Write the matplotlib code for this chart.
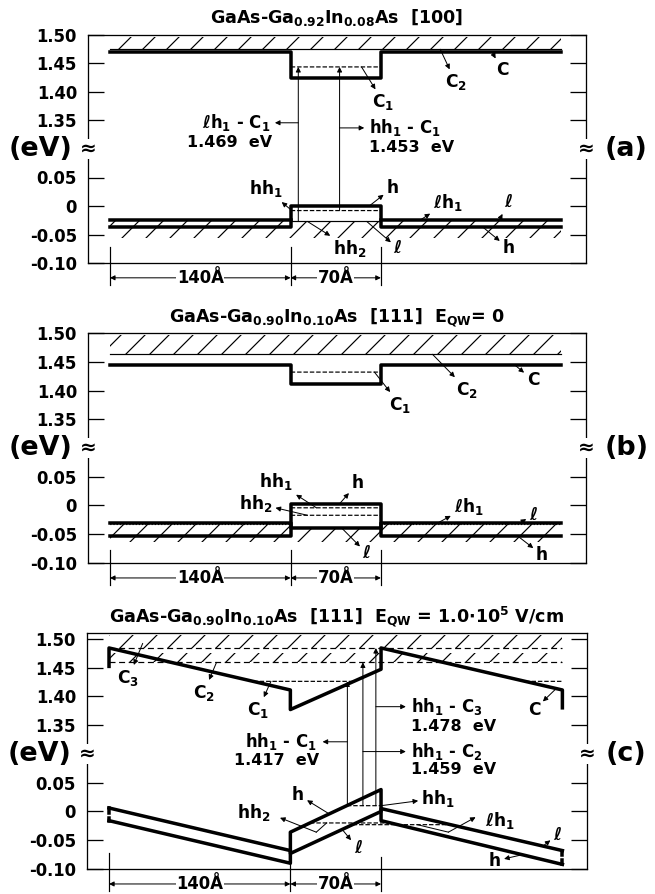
import numpy as np
import matplotlib
matplotlib.use("Agg")
import matplotlib.pyplot as plt

plt.rcParams["font.family"] = ["DejaVu Sans"]
plt.rcParams["font.weight"] = "bold"
plt.rcParams["mathtext.default"] = "bf"
plt.rcParams["hatch.linewidth"] = 1.2

# layer geometry (Angstrom): barrier | well | barrier
x_edges = [0, 140, 210, 350]
width_labels = ["140Å", "70Å"]

ytick_vals = [-0.10, -0.05, 0, 0.05, 1.35, 1.40, 1.45, 1.50]
ytick_labels = ["-0.10", "-0.05", "0", "0.05", "1.35", "1.40", "1.45", "1.50"]

# (a) [100]
a_C = [1.471, 1.424, 1.471]
a_C1 = 1.444
a_C2 = 1.475
a_Cband = [1.475, 1.497]
a_h = [-0.037, 0.0, -0.037]
a_l = [-0.024, -0.027, -0.024]
a_hh1 = -0.008
a_Vbot = -0.057
a_E = [1.469, 1.453]

# (b) [111], E=0
b_C = [1.444, 1.411, 1.444]
b_C1 = 1.432
b_C2 = 1.463
b_Cband = [1.463, 1.497]
b_h = [-0.053, 0.003, -0.053]
b_l = [-0.030, -0.040, -0.030]
b_lh1 = -0.033
b_hh1 = -0.004
b_hh2 = -0.017
b_Vbot = -0.064

# (c) [111], E=1e5 V/cm
c_Cx = [0, 0, 140, 140, 210, 210, 350, 350]
c_C = [1.452, 1.484, 1.411, 1.377, 1.447, 1.484, 1.411, 1.380]
c_Vx = [0, 140, 140, 210, 210, 350]
c_h = [-0.016, -0.090, -0.036, 0.038, -0.016, -0.092]
c_l = [0.006, -0.068, -0.073, 0.000, 0.005, -0.068]
c_C1, c_C2, c_C3 = 1.426, 1.459, 1.484
c_Cbands = [[1.484, 1.506], [1.459, 1.476]]
c_hh1, c_hh2, c_lh1 = 0.010, -0.020, -0.023
c_E = [1.417, 1.459, 1.478]

THICK = 3.5
THIN = 1.2


def Y(v):
    # broken energy axis: 1.35..1.50 is drawn just above -0.10..0.05
    v = np.asarray(v, float)
    return np.where(v > 0.5, v - 1.20, v)


def step_xy(vals):
    return np.repeat(x_edges, 2)[1:-1], np.repeat(vals, 2)


grid = np.linspace(0.25, 349.75, 1400)


def level(ax, E, ex, ey, above, ls="--", xmin=0):
    edge = np.interp(grid, ex, ey)
    ok = (edge < E if above else edge > E) & (grid > xmin)
    ax.plot(grid, np.where(ok, Y(E), np.nan), "k", lw=THIN, ls=ls, zorder=2)


def hatch(ax, x, lo, hi):
    ax.fill_between(x, Y(lo), Y(hi), facecolor="none", edgecolor="k",
                    hatch="/", lw=0, zorder=1)


def lab(ax, s, xy, xyt, fs=17):
    ax.annotate(s, xy=xy, xytext=xyt, ha="center", va="center", fontsize=fs,
                zorder=6,
                arrowprops=dict(arrowstyle="<|-", lw=1.0, color="k",
                                shrinkA=1, shrinkB=0, mutation_scale=10))


def vtrans(ax, x, lo, hi):
    ax.annotate("", xy=(x, Y(hi)), xytext=(x, Y(lo)),
                arrowprops=dict(arrowstyle="-|>", lw=1.0, color="k",
                                shrinkA=0, shrinkB=0, mutation_scale=10))


def htrans(ax, s, xv, xt, p, side, fs=16.5):
    ax.annotate(s, xy=(xv, p), xytext=(xt, p), ha=side, va="center",
                fontsize=fs,
                arrowprops=dict(arrowstyle="<|-", lw=1.0, color="k",
                                shrinkA=3, shrinkB=0, mutation_scale=10))


def frame(ax, title, tag, ty, ext_tops, ytop=0.30):
    ax.set_xlim(-17, 369)
    ax.set_ylim(-0.10, ytop)
    ax.set_xticks([])
    ax.set_yticks(Y(ytick_vals))
    ax.set_yticklabels(ytick_labels)
    ax.tick_params(axis="y", direction="in", length=16, width=1.3,
                   right=True, labelsize=16.5, pad=11)
    for sp in ax.spines.values():
        sp.set_linewidth(1.3)
    ax.text(0.5, ty, title, transform=ax.transAxes, ha="center",
            va="center", fontsize=17.5)
    tr = ax.get_yaxis_transform()
    ax.text(-0.032, 0.10, "(eV)", transform=tr, ha="right", va="center",
            fontsize=27)
    ax.text(1.038, 0.10, tag, transform=tr, ha="left", va="center",
            fontsize=27)
    for xa in (0.0, 1.0):
        ax.text(xa, 0.10, "≈", transform=tr, ha="center", va="center",
                fontsize=20, bbox=dict(fc="white", ec="none", pad=0.5))
    # dimension lines
    for xe, top in zip(x_edges[:3], ext_tops):
        ax.plot([xe, xe], [top, -0.138], "k", lw=THIN, clip_on=False)
    for i, s in enumerate(width_labels):
        x0, x1 = x_edges[i], x_edges[i + 1]
        ax.annotate("", xy=(x1, -0.126), xytext=(x0, -0.126),
                    annotation_clip=False,
                    arrowprops=dict(arrowstyle="<|-|>", lw=1.0, color="k",
                                    shrinkA=0, shrinkB=0, mutation_scale=10))
        ax.text((x0 + x1) / 2, -0.126, s, ha="center", va="center",
                fontsize=16.5, clip_on=False,
                bbox=dict(fc="white", ec="none", pad=0.3))


fig = plt.figure(figsize=(655 / 72, 894 / 72), dpi=72)
W = 655.0
H = 894.0
axa = fig.add_axes([88 / W, 1 - 263 / H, 498 / W, 228 / H])
axb = fig.add_axes([88 / W, 1 - 563 / H, 498 / W, 230 / H])
axc = fig.add_axes([87 / W, 1 - 869 / H, 500 / W, 236 / H])

# ---------------- (a)
ax = axa
frame(ax, r"GaAs-Ga$_{0.92}$In$_{0.08}$As  [100]", "(a)", 1.078,
      [-0.072, -0.072, -0.072])
hatch(ax, [0, 350], [a_Cband[0]] * 2, [a_Cband[1]] * 2)
ax.plot([0, 350], Y([a_C2, a_C2]), "k", lw=THIN, zorder=2)
sx, sy = step_xy(a_C)
ax.plot(sx, Y(sy), "k", lw=THICK, zorder=3)
level(ax, a_C1, sx, sy, True)
vx, vtop = step_xy(a_l)
hatch(ax, vx, [a_Vbot] * len(vx), vtop)
sx, sy = step_xy(a_h)
ax.plot(sx, Y(sy), "k", lw=THICK, zorder=3)
ax.plot([0, 140], [a_l[0]] * 2, "k", lw=THICK, zorder=3)
ax.plot([210, 350], [a_l[2]] * 2, "k", lw=THICK, zorder=3)
ax.plot([140, 210], [a_l[1]] * 2, "k", lw=THIN, zorder=3)
level(ax, a_hh1, sx, sy, False)
vtrans(ax, 146, a_l[1], a_C1)
vtrans(ax, 178, a_hh1, a_C1)
htrans(ax, r"ℓh$_1$ - C$_1$", 146, 124, 0.146, "right")
ax.text(126, 0.112, f"{a_E[0]:.3f}  eV", ha="right", va="center", fontsize=16)
htrans(ax, r"hh$_1$ - C$_1$", 178, 201, 0.137, "left")
ax.text(201, 0.1035, f"{a_E[1]:.3f}  eV", ha="left", va="center", fontsize=16)
lab(ax, "C$_2$", (256, Y(a_C2)), (268, 0.217))
lab(ax, "C", (296, Y(a_C[2])), (304, 0.238))
lab(ax, "C$_1$", (195, Y(a_C1)), (212, 0.182))
lab(ax, "hh$_1$", (141, Y(a_hh1)), (121, 0.030))
lab(ax, "h", (201, Y(a_h[1])), (219, 0.032))
lab(ax, "ℓh$_1$", (241, Y(a_l[2])), (262, 0.007))
lab(ax, "ℓ", (302, Y(a_l[2])), (309, 0.007))
lab(ax, "h", (289, Y(a_h[2])), (309, -0.074))
lab(ax, "hh$_2$", (153, Y(a_l[1])), (186, -0.074))
lab(ax, "ℓ", (199, Y(a_l[1])), (223, -0.074))

# ---------------- (b)
ax = axb
frame(ax, r"GaAs-Ga$_{0.90}$In$_{0.10}$As  [111]  E$_{QW}$= 0", "(b)", 1.068,
      [-0.077, -0.077, -0.077])
hatch(ax, [0, 350], [b_Cband[0]] * 2, [b_Cband[1]] * 2)
ax.plot([0, 350], Y([b_C2, b_C2]), "k", lw=THIN, zorder=2)
sx, sy = step_xy(b_C)
ax.plot(sx, Y(sy), "k", lw=THICK, zorder=3)
level(ax, b_C1, sx, sy, True)
vx, vtop = step_xy(np.minimum(b_l, b_lh1))
hatch(ax, vx, [b_Vbot] * len(vx), vtop)
hx, hy = step_xy(b_h)
ax.plot(hx, Y(hy), "k", lw=THICK, zorder=3)
lx, ly = step_xy(b_l)
ax.plot(lx, Y(ly), "k", lw=THICK, zorder=3)
level(ax, b_hh1, hx, hy, False)
level(ax, b_hh2, hx, hy, False)
level(ax, b_lh1, lx, ly, False, ls=":")
lab(ax, "C$_2$", (250, Y(b_C2)), (277, 0.201))
lab(ax, "C", (314, Y(b_C[2])), (328, 0.218))
lab(ax, "C$_1$", (205, Y(b_C1)), (225, 0.175))
lab(ax, "hh$_1$", (160, Y(b_hh1)), (129, 0.041))
lab(ax, "h", (178, Y(b_h[1])), (192, 0.039))
lab(ax, "hh$_2$", (153, Y(b_hh2)), (113, 0.004))
lab(ax, "ℓh$_1$", (252, Y(b_lh1)), (278, -0.001))
lab(ax, "ℓ", (318, Y(b_l[2])), (328, -0.0165))
lab(ax, "h", (316, Y(b_h[2])), (335, -0.086))
lab(ax, "ℓ", (180, Y(b_l[1])), (199, -0.083))

# ---------------- (c)
ax = axc
frame(ax, r"GaAs-Ga$_{0.90}$In$_{0.10}$As  [111]  E$_{QW}$ = 1.0$\cdot$10$^5$ V/cm",
      "(c)", 1.07, [-0.072, -0.092, -0.079], ytop=0.31)
for lo, hi in c_Cbands:
    hatch(ax, [0, 350], [lo, lo], [hi, hi])
    ax.plot([0, 350], Y([lo, lo]), "k", lw=THIN, ls=(0, (5, 3)), zorder=2)
ax.plot(c_Cx, Y(c_C), "k", lw=THICK, zorder=3)
level(ax, c_C1, c_Cx, c_C, True)
ax.plot(c_Vx, Y(c_h), "k", lw=THICK, zorder=3)
ax.plot(c_Vx, Y(c_l), "k", lw=THICK, zorder=3)
# end stubs of the neighbouring periods
ax.plot([0, 0], [c_l[0], -0.003], "k", lw=THICK, zorder=3)
ax.plot([0, 0], [-0.011, c_h[0]], "k", lw=THICK, zorder=3)
ax.plot([350, 350], [c_l[-1], -0.076], "k", lw=THICK, zorder=3)
ax.plot([350, 350], [-0.084, c_h[-1]], "k", lw=THICK, zorder=3)
level(ax, c_hh1, c_Vx, c_h, False, xmin=140)
level(ax, c_hh2, c_Vx, c_h, False, xmin=140)
level(ax, c_lh1, c_Vx, c_l, False, xmin=140)
vtrans(ax, 184, c_hh1, c_C1)
vtrans(ax, 196, c_hh1, c_C2)
vtrans(ax, 206, c_hh1, c_C3)
htrans(ax, r"hh$_1$ - C$_1$", 184, 161, 0.121, "right")
ax.text(162, 0.089, f"{c_E[0]:.3f}  eV", ha="right", va="center", fontsize=16)
htrans(ax, r"hh$_1$ - C$_3$", 206, 233, 0.182, "left")
ax.text(233, 0.147, f"{c_E[2]:.3f}  eV", ha="left", va="center", fontsize=16)
htrans(ax, r"hh$_1$ - C$_2$", 196, 233, 0.104, "left")
ax.text(233, 0.072, f"{c_E[1]:.3f}  eV", ha="left", va="center", fontsize=16)
lab(ax, "C$_3$", (26, Y(1.492)), (15, 0.232))
lab(ax, "C$_2$", (83, Y(c_C2)), (73, 0.206))
lab(ax, "C$_1$", (125, Y(c_C1)), (115, 0.176))
lab(ax, "C", (345, Y(1.413)), (328, 0.176))
lab(ax, "h", (170, np.interp(170, c_Vx[2:4], c_h[2:4])), (146, 0.029))
lab(ax, "hh$_1$", (210, Y(c_hh1)), (254, 0.023))
lab(ax, "ℓ", (180, np.interp(180, c_Vx[2:4], c_l[2:4])), (192, -0.064))
lab(ax, "ℓ", (335, np.interp(335, c_Vx[4:], c_l[4:])), (346, -0.041))
lab(ax, "h", (319, np.interp(319, c_Vx[4:], c_h[4:])), (298, -0.086))
# bent pointers
for s, start, bend, head, txt in [
        ("hh$_2$", (168, c_hh2), (160, -0.036), (132, -0.011), (112, -0.001)),
        ("ℓh$_1$", (238, c_lh1), (262, -0.036), (283, -0.010), (302, -0.015))]:
    ax.plot([start[0], bend[0]], [start[1], bend[1]], "k", lw=1.0)
    ax.annotate("", xy=head, xytext=bend,
                arrowprops=dict(arrowstyle="-|>", lw=1.0, color="k",
                                shrinkA=0, shrinkB=0, mutation_scale=10))
    ax.text(txt[0], txt[1], s, ha="center", va="center", fontsize=17)

fig.savefig("out.png", dpi=72)
